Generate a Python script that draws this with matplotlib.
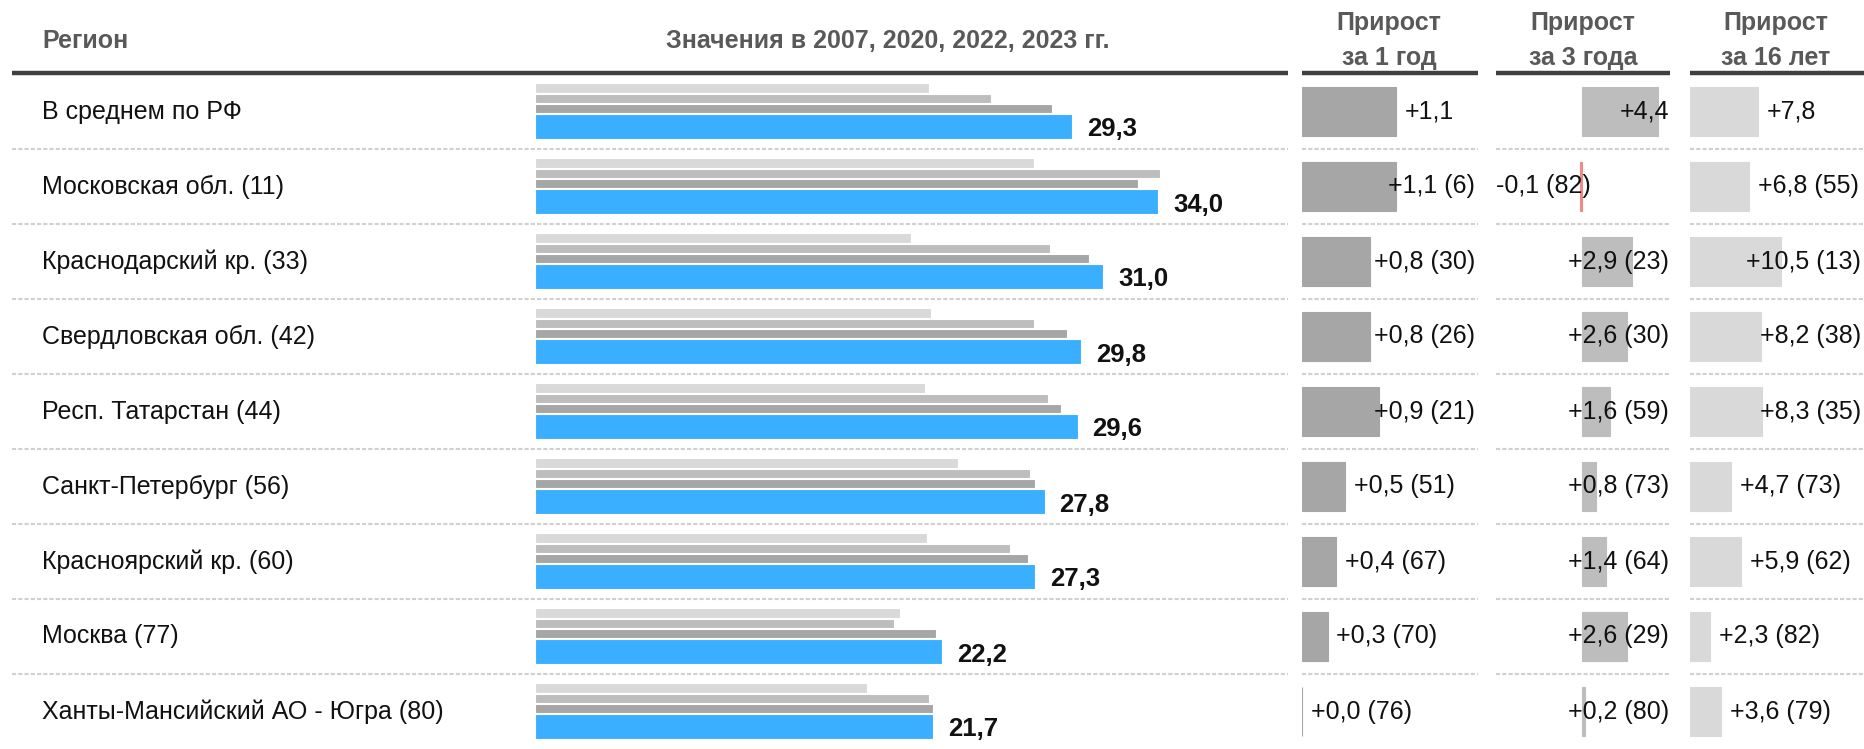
import matplotlib
matplotlib.use("Agg")
import matplotlib.pyplot as plt
from matplotlib.transforms import offset_copy

plt.rcParams['font.family'] = ['Liberation Sans', 'DejaVu Sans']

# ---- data ----
regions = ["В среднем по РФ", "Московская обл. (11)", "Краснодарский кр. (33)",
           "Свердловская обл. (42)", "Респ. Татарстан (44)", "Санкт-Петербург (56)",
           "Красноярский кр. (60)", "Москва (77)", "Ханты-Мансийский АО - Югра (80)"]
v2023 = [29.3, 34.0, 31.0, 29.8, 29.6, 27.8, 27.3, 22.2, 21.7]
v2022 = [28.2, 32.9, 30.2, 29.0, 28.7, 27.3, 26.9, 21.9, 21.7]
v2020 = [24.9, 34.1, 28.1, 27.2, 28.0, 27.0, 25.9, 19.6, 21.5]
v2007 = [21.5, 27.2, 20.5, 21.6, 21.3, 23.1, 21.4, 19.9, 18.1]
g1 = [1.1, 1.1, 0.8, 0.8, 0.9, 0.5, 0.4, 0.3, 0.0]
g3 = [4.4, -0.1, 2.9, 2.6, 1.6, 0.8, 1.4, 2.6, 0.2]
g16 = [7.8, 6.8, 10.5, 8.2, 8.3, 4.7, 5.9, 2.3, 3.6]
rank1 = [None, 6, 30, 26, 21, 51, 67, 70, 76]
rank3 = [None, 82, 23, 30, 59, 73, 64, 29, 80]
rank16 = [None, 55, 13, 38, 35, 73, 62, 82, 79]
col_titles = ["Регион", "Значения в 2007, 2020, 2022, 2023 гг.",
              "Прирост\nза 1 год", "Прирост\nза 3 года", "Прирост\nза 16 лет"]

W, H = 1864, 749
fig = plt.figure(figsize=(W / 100, H / 100), dpi=100)

TOP = 74          # header bottom (px)
ROW = 75          # row height (px)
n = len(regions)
FS = 18

def add_axes_px(x0, x1):
    return fig.add_axes([x0 / W, 0, (x1 - x0) / W, (H - TOP) / H])

def fmt(v, signed=False):
    s = f"{v:+.1f}" if signed else f"{v:.1f}"
    return s.replace('.', ',')

C_BLUE = "#3bafff"
C_DARK = "#a6a6a6"
C_MID = "#bdbdbd"
C_LIGHT = "#d9d9d9"
C_NEG = "#f08a8a"

# ---- main bars ----
ax = add_axes_px(535, 1288)
ax.set_xlim(0, (1288 - 535) / 18.33)
ax.set_ylim(n, 0)
ax.axis('off')
rows = list(range(n))
def yoff(c):
    return [r + c for r in rows]
ax.barh(yoff(0.183), v2007, height=0.135, color=C_LIGHT, edgecolor='white', linewidth=0.8)
ax.barh(yoff(0.324), v2020, height=0.125, color=C_MID, edgecolor='white', linewidth=0.8)
ax.barh(yoff(0.458), v2022, height=0.125, color=C_DARK, edgecolor='white', linewidth=0.8)
ax.barh(yoff(0.70), v2023, height=0.335, color=C_BLUE, edgecolor='white', linewidth=0.8)
lab_tr = offset_copy(ax.transData, fig=fig, x=15, y=0, units='dots')
for r, v in zip(rows, v2023):
    ax.text(v, r + 0.74, fmt(v), transform=lab_tr, ha='left', va='center',
            fontsize=FS + 0.5, fontweight='bold', color='#111111')

# ---- growth columns ----
cols = [
    (1302, 1476, 0.0, 85.0, g1, rank1, C_DARK),
    (1496, 1670, 86.0, 17.2, g3, rank3, C_MID),
    (1690, 1862, 0.0, 8.7, g16, rank16, C_LIGHT),
]
growth_axes = []
for x0, x1, zero_off, scale, vals, ranks, col in cols:
    g = add_axes_px(x0, x1)
    g.set_xlim(-zero_off / scale, (x1 - x0 - zero_off) / scale)
    g.set_ylim(n, 0)
    g.axis('off')
    colors = [col if v >= 0 else C_NEG for v in vals]
    g.barh([r + 0.5 for r in rows], vals, height=0.66, color=colors,
           edgecolor=colors, linewidth=0.8)
    growth_axes.append((g, x0, x1, vals, ranks))

# text layer on top, in pixel coordinates
overlay = fig.add_axes([0, 0, 1, 1])
overlay.set_zorder(10)
overlay.set_xlim(0, W)
overlay.set_ylim(H, 0)
overlay.axis('off')

fig.canvas.draw()
renderer = fig.canvas.get_renderer()
for g, x0, x1, vals, ranks in growth_axes:
    for r, v, rk in zip(rows, vals, ranks):
        s = fmt(v, signed=True)
        if rk is not None:
            s += f" ({rk})"
        end_px = g.transData.transform((v, 0))[0]
        t = overlay.text(0, TOP + (r + 0.5) * ROW, s, ha='left', va='center',
                         fontsize=FS, color='#111111')
        w = t.get_window_extent(renderer).width
        left = end_px + 9 if v >= 0 else end_px - 9 - w
        left = min(left, x1 - 1 - w)
        left = max(left, x0)
        t.set_x(left)

# ---- header, names and separators ----
hc = '#595959'
overlay.text(42, 41, col_titles[0], ha='left', va='center', fontsize=FS,
             fontweight='bold', color=hc)
overlay.text(888, 41, col_titles[1], ha='center', va='center', fontsize=FS,
             fontweight='bold', color=hc)
for (x0, x1, *_), title in zip(cols, col_titles[2:]):
    top, bottom = title.split('\n')
    overlay.text((x0 + x1) / 2, 23, top, ha='center', va='center', fontsize=FS,
                 fontweight='bold', color=hc)
    overlay.text((x0 + x1) / 2, 58, bottom, ha='center', va='center', fontsize=FS,
                 fontweight='bold', color=hc)

segments = [(12, 1288), (1302, 1478), (1496, 1670), (1690, 1864)]
for a, b in segments:
    overlay.plot([a, b], [TOP - 1, TOP - 1], color='#404040', lw=3.2,
                 solid_capstyle='butt')
    for r in range(1, n):
        y = TOP + r * ROW
        overlay.plot([a, b], [y, y], color='#d0d0d0', lw=1.5,
                     linestyle=(0, (2, 1)))

for r, name in enumerate(regions):
    overlay.text(42, TOP + (r + 0.5) * ROW, name, ha='left', va='center',
                 fontsize=FS, color='#111111')

fig.savefig("out.png", dpi=100)
